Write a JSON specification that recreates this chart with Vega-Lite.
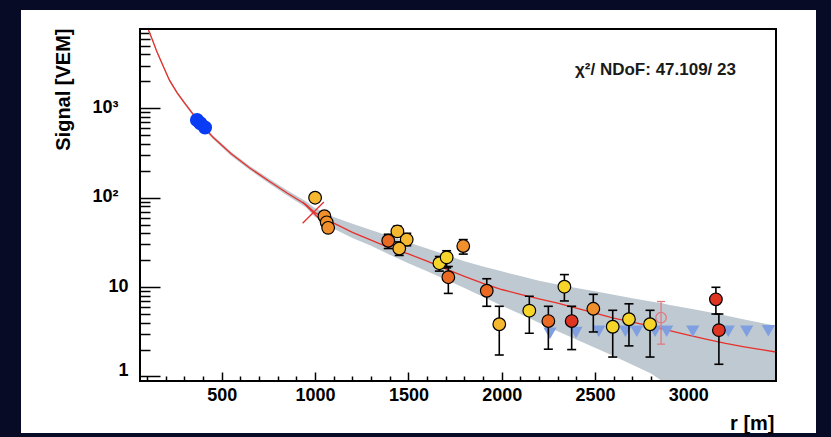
{
  "$schema": "https://vega.github.io/schema/vega-lite/v6.json",
  "autosize": "none",
  "width": 795,
  "height": 423,
  "padding": {"left": 21, "top": 10, "right": 15, "bottom": 4},
  "background": "#070b25",
  "config": {
    "view": {"stroke": null, "fill": "white"},
    "font": "Liberation Sans",
    "axis": {"labelOverlap": false, "labelFlush": false, "labelBound": false}
  },
  "datasets": {
    "fit": [
      {"r": 106, "s": 7600, "lo": 7300, "hi": 7709},
      {"r": 130, "s": 5700, "lo": 5480, "hi": 5930},
      {"r": 150, "s": 4400, "lo": 4230, "hi": 4580},
      {"r": 185, "s": 3000, "lo": 2880, "hi": 3120},
      {"r": 220, "s": 2050, "lo": 1970, "hi": 2135},
      {"r": 260, "s": 1500, "lo": 1440, "hi": 1560},
      {"r": 300, "s": 1150, "lo": 1105, "hi": 1195},
      {"r": 365, "s": 760, "lo": 728, "hi": 793},
      {"r": 450, "s": 480, "lo": 458, "hi": 503},
      {"r": 550, "s": 310, "lo": 295, "hi": 326},
      {"r": 650, "s": 215, "lo": 204, "hi": 227},
      {"r": 750, "s": 155, "lo": 146, "hi": 165},
      {"r": 850, "s": 113, "lo": 106, "hi": 121},
      {"r": 950, "s": 84, "lo": 78, "hi": 91},
      {"r": 1000, "s": 68, "lo": 61, "hi": 76},
      {"r": 1100, "s": 52, "lo": 45, "hi": 61},
      {"r": 1200, "s": 41, "lo": 35.5, "hi": 51},
      {"r": 1300, "s": 33.5, "lo": 29, "hi": 43.5},
      {"r": 1400, "s": 27.5, "lo": 23, "hi": 37},
      {"r": 1500, "s": 23.5, "lo": 18.5, "hi": 31.5},
      {"r": 1600, "s": 19.5, "lo": 15, "hi": 27},
      {"r": 1700, "s": 16, "lo": 12.2, "hi": 23},
      {"r": 1800, "s": 13.2, "lo": 9.8, "hi": 19.5},
      {"r": 1900, "s": 11, "lo": 7.8, "hi": 17},
      {"r": 2000, "s": 9.4, "lo": 6.2, "hi": 15},
      {"r": 2100, "s": 8.3, "lo": 5.0, "hi": 13.3},
      {"r": 2200, "s": 7.4, "lo": 4.0, "hi": 11.8},
      {"r": 2300, "s": 6.6, "lo": 3.2, "hi": 10.7},
      {"r": 2400, "s": 5.8, "lo": 2.6, "hi": 9.8},
      {"r": 2500, "s": 5.1, "lo": 2.1, "hi": 9.0},
      {"r": 2600, "s": 4.5, "lo": 1.7, "hi": 8.2},
      {"r": 2700, "s": 4.05, "lo": 1.35, "hi": 7.5},
      {"r": 2800, "s": 3.65, "lo": 1.08, "hi": 6.9},
      {"r": 2860, "s": 3.4, "lo": 0.891, "hi": 6.6},
      {"r": 2900, "s": 3.25, "lo": 0.891, "hi": 6.3},
      {"r": 3000, "s": 2.9, "lo": 0.891, "hi": 5.8},
      {"r": 3100, "s": 2.6, "lo": 0.891, "hi": 5.3},
      {"r": 3200, "s": 2.35, "lo": 0.891, "hi": 4.8},
      {"r": 3300, "s": 2.15, "lo": 0.891, "hi": 4.35},
      {"r": 3400, "s": 1.98, "lo": 0.891, "hi": 3.95},
      {"r": 3470, "s": 1.88, "lo": 0.891, "hi": 3.7}
    ],
    "pts": [
      {"r": 1000, "s": 100, "lo": 93, "hi": 108, "c": "yo"},
      {"r": 1050, "s": 62, "lo": 57, "hi": 68, "c": "o"},
      {"r": 1062, "s": 53, "lo": 48, "hi": 58, "c": "o"},
      {"r": 1070, "s": 46, "lo": 42, "hi": 51, "c": "o"},
      {"r": 1392, "s": 33, "lo": 27, "hi": 39, "c": "do"},
      {"r": 1441, "s": 42, "lo": 37, "hi": 48, "c": "yo"},
      {"r": 1491, "s": 34, "lo": 29, "hi": 40, "c": "yo"},
      {"r": 1451, "s": 27, "lo": 22.6, "hi": 32, "c": "yo"},
      {"r": 1794, "s": 28.8, "lo": 23.4, "hi": 34, "c": "o"},
      {"r": 1666, "s": 18.5, "lo": 15.1, "hi": 22, "c": "y"},
      {"r": 1705, "s": 21.5, "lo": 16.4, "hi": 25.5, "c": "y"},
      {"r": 1714, "s": 12.9, "lo": 8.5, "hi": 17, "c": "do"},
      {"r": 1920, "s": 9.1, "lo": 6.1, "hi": 12.4, "c": "do"},
      {"r": 1987, "s": 3.84, "lo": 1.74, "hi": 6.1, "c": "yo"},
      {"r": 2148, "s": 5.45, "lo": 3.05, "hi": 7.9, "c": "y"},
      {"r": 2250, "s": 4.17, "lo": 2.02, "hi": 6.1, "c": "do"},
      {"r": 2336, "s": 10.1, "lo": 7.0, "hi": 13.8, "c": "y"},
      {"r": 2375, "s": 4.17, "lo": 2.0, "hi": 6.1, "c": "r"},
      {"r": 2491, "s": 5.72, "lo": 3.15, "hi": 8.3, "c": "o"},
      {"r": 2595, "s": 3.6, "lo": 1.65, "hi": 5.5, "c": "y"},
      {"r": 2682, "s": 4.37, "lo": 2.2, "hi": 6.5, "c": "y"},
      {"r": 2795, "s": 3.84, "lo": 1.65, "hi": 5.5, "c": "y"},
      {"r": 3148, "s": 7.3, "lo": 5.0, "hi": 9.95, "c": "r"},
      {"r": 3164, "s": 3.3, "lo": 1.37, "hi": 5.0, "c": "r"}
    ],
    "open": [
      {"r": 2854, "s": 4.55, "lo": 2.3, "hi": 6.9}
    ],
    "blue": [
      {"r": 367, "s": 740},
      {"r": 385, "s": 680},
      {"r": 410, "s": 610}
    ],
    "tri": [
      {"r": 2259, "s": 3.05},
      {"r": 2398, "s": 3.1},
      {"r": 2520, "s": 3.2},
      {"r": 2663, "s": 3.2},
      {"r": 2724, "s": 3.2},
      {"r": 2822, "s": 3.2},
      {"r": 2884, "s": 3.2},
      {"r": 3024, "s": 3.2},
      {"r": 3214, "s": 3.2},
      {"r": 3313, "s": 3.2},
      {"r": 3429, "s": 3.25}
    ],
    "star": [
      {"r": 990, "s": 68}
    ]
  },
  "layer": [
    {
      "data": {"name": "fit"},
      "mark": {"type": "area", "color": "#bfc9d1", "opacity": 1},
      "encoding": {
        "x": {
          "field": "r", "type": "quantitative",
          "scale": {"domain": [-576.1, 3684.4], "nice": false, "zero": false},
          "axis": {
            "orient": "bottom", "offset": -52, "domain": false, "grid": false,
            "tickCount": 1000,
            "values": [100,200,300,400,500,600,700,800,900,1000,1100,1200,1300,1400,1500,1600,1700,1800,1900,2000,2100,2200,2300,2400,2500,2600,2700,2800,2900,3000,3100,3200,3300,3400],
            "format": "d",
            "labelExpr": "datum.value % 500 === 0 ? datum.label : ''",
            "tickColor": "black", "tickWidth": 1.5,
            "tickSize": {"condition": {"test": "datum.value % 500 === 0", "value": -9}, "value": -5},
            "labelFont": "Liberation Sans", "labelFontWeight": "bold", "labelFontSize": 18, "labelColor": "black",
            "labelPadding": 14.4, "labelOverlap": false, "labelFlush": false,
            "title": "r [m]", "titleFont": "Liberation Sans", "titleFontWeight": "bold", "titleFontSize": 20, "titleColor": "black",
            "titleAnchor": "end", "titleAlign": "right", "titleBaseline": "middle", "titleX": 753, "titleY": 42
          }
        },
        "y": {
          "field": "lo", "type": "quantitative",
          "scale": {"type": "log", "domain": [0.2333, 12580], "nice": false},
          "axis": {
            "orient": "left", "offset": -119, "domain": false, "grid": false,
            "tickCount": 1000,
            "values": [1,2,3,4,5,6,7,8,9,10,20,30,40,50,60,70,80,90,100,200,300,400,500,600,700,800,900,1000,2000,3000,4000,5000,6000,7000],
            "labelExpr": "datum.value === 1000 ? '10³' : datum.value === 100 ? '10²' : datum.value === 10 ? '10' : datum.value === 1 ? '1' : ''",
            "tickColor": "black", "tickWidth": 1.5,
            "tickSize": {"condition": {"test": "indexof([1,10,100,1000], datum.value) >= 0", "value": -20}, "value": -10},
            "labelFont": "Liberation Sans", "labelFontWeight": "bold", "labelFontSize": 18, "labelColor": "black",
            "labelAlign": "right", "labelBaseline": "middle",
            "labelPadding": {"condition": {"test": "datum.value >= 100", "value": 42}, "value": 32},
            "labelOffset": {"condition": {"test": "datum.value === 1", "value": -6}, "value": -1},
            "labelOverlap": false, "labelFlush": false,
            "title": "Signal [VEM]", "titleFont": "Liberation Sans", "titleFontWeight": "bold", "titleFontSize": 20, "titleColor": "black",
            "titleAnchor": "end", "titleAlign": "right", "titleBaseline": "middle", "titleAngle": -90, "titleX": -77, "titleY": 18
          }
        },
        "y2": {"field": "hi"}
      }
    },
    {
      "data": {"name": "fit"},
      "mark": {"type": "line", "color": "#e8302a", "strokeWidth": 1.3},
      "encoding": {
        "x": {"field": "r", "type": "quantitative"},
        "y": {"field": "s", "type": "quantitative"}
      }
    },
    {
      "data": {"name": "tri"},
      "mark": {"type": "point", "shape": "triangle-down", "filled": true, "color": "#7f9fe0", "size": 175, "opacity": 1, "strokeWidth": 0},
      "encoding": {
        "x": {"field": "r", "type": "quantitative"},
        "y": {"field": "s", "type": "quantitative"}
      }
    },
    {
      "data": {"name": "blue"},
      "mark": {"type": "point", "shape": "circle", "filled": true, "color": "#0a3cf5", "size": 200, "opacity": 1, "strokeWidth": 0},
      "encoding": {
        "x": {"field": "r", "type": "quantitative"},
        "y": {"field": "s", "type": "quantitative"}
      }
    },
    {
      "data": {"name": "star"},
      "mark": {"type": "point", "shape": "M-1,-1L1,1M-1,1L1,-1", "filled": false, "color": "#e83030", "size": 450, "strokeWidth": 1.3, "opacity": 1},
      "encoding": {
        "x": {"field": "r", "type": "quantitative"},
        "y": {"field": "s", "type": "quantitative"}
      }
    },
    {
      "data": {"name": "open"},
      "mark": {"type": "rule", "color": "#e07a80", "strokeWidth": 1.3},
      "encoding": {
        "x": {"field": "r", "type": "quantitative"},
        "y": {"field": "lo", "type": "quantitative"},
        "y2": {"field": "hi"}
      }
    },
    {
      "data": {"name": "open"},
      "mark": {"type": "tick", "orient": "horizontal", "color": "#e07a80", "size": 8, "thickness": 1.3, "opacity": 1},
      "encoding": {
        "x": {"field": "r", "type": "quantitative"},
        "y": {"field": "lo", "type": "quantitative"}
      }
    },
    {
      "data": {"name": "open"},
      "mark": {"type": "tick", "orient": "horizontal", "color": "#e07a80", "size": 8, "thickness": 1.3, "opacity": 1},
      "encoding": {
        "x": {"field": "r", "type": "quantitative"},
        "y": {"field": "hi", "type": "quantitative"}
      }
    },
    {
      "data": {"name": "open"},
      "mark": {"type": "point", "shape": "circle", "filled": false, "color": "#e07a80", "size": 110, "strokeWidth": 1.3, "opacity": 1},
      "encoding": {
        "x": {"field": "r", "type": "quantitative"},
        "y": {"field": "s", "type": "quantitative"}
      }
    },
    {
      "data": {"name": "pts"},
      "mark": {"type": "rule", "color": "black", "strokeWidth": 1.6},
      "encoding": {
        "x": {"field": "r", "type": "quantitative"},
        "y": {"field": "lo", "type": "quantitative"},
        "y2": {"field": "hi"}
      }
    },
    {
      "data": {"name": "pts"},
      "mark": {"type": "tick", "orient": "horizontal", "color": "black", "size": 9, "thickness": 1.6, "opacity": 1},
      "encoding": {
        "x": {"field": "r", "type": "quantitative"},
        "y": {"field": "lo", "type": "quantitative"}
      }
    },
    {
      "data": {"name": "pts"},
      "mark": {"type": "tick", "orient": "horizontal", "color": "black", "size": 9, "thickness": 1.6, "opacity": 1},
      "encoding": {
        "x": {"field": "r", "type": "quantitative"},
        "y": {"field": "hi", "type": "quantitative"}
      }
    },
    {
      "data": {"name": "pts"},
      "mark": {"type": "point", "shape": "circle", "filled": true, "size": 160, "stroke": "black", "strokeWidth": 1.2, "opacity": 1},
      "encoding": {
        "x": {"field": "r", "type": "quantitative"},
        "y": {"field": "s", "type": "quantitative"},
        "fill": {
          "field": "c", "type": "nominal", "legend": null,
          "scale": {"domain": ["y", "yo", "o", "do", "r"], "range": ["#f7d42a", "#f5b830", "#f0902c", "#ea6a24", "#e03422"]}
        }
      }
    },
    {
      "data": {"values": [{}]},
      "mark": {"type": "rect", "fill": null, "fillOpacity": 0, "stroke": "black", "strokeWidth": 2},
      "encoding": {
        "x": {"datum": 61.6, "type": "quantitative"},
        "x2": {"datum": 3470},
        "y": {"datum": 0.891, "type": "quantitative"},
        "y2": {"datum": 7709}
      }
    },
    {
      "data": {"values": [{}]},
      "mark": {"type": "text", "text": "χ²/ NDoF: 47.109/ 23", "font": "Liberation Sans", "fontWeight": "bold", "fontSize": 17, "color": "#1a1a1a", "align": "left", "baseline": "middle"},
      "encoding": {
        "x": {"datum": 2393, "type": "quantitative"},
        "y": {"datum": 2680, "type": "quantitative"}
      }
    }
  ]
}
